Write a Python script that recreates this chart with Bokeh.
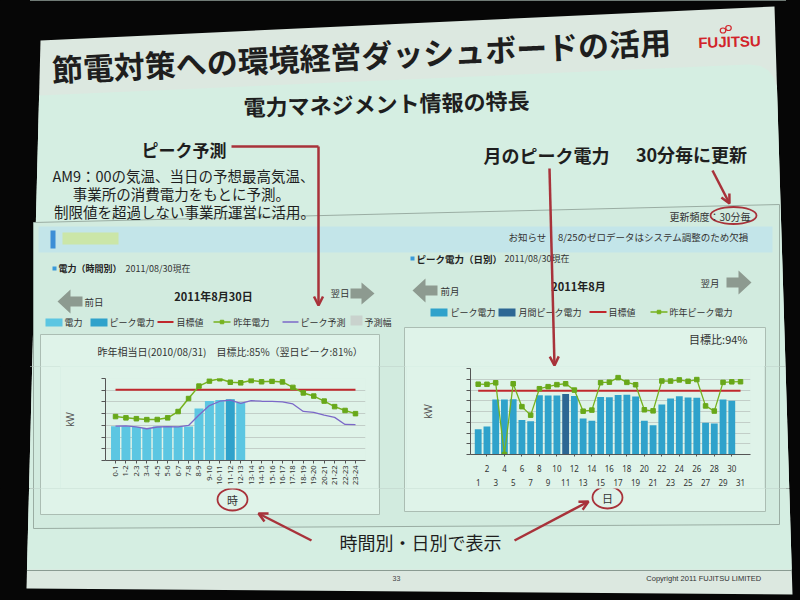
import math
from bokeh.plotting import figure
from bokeh.models import Range1d, FactorRange, FixedTicker, LinearAxis, Arrow, OpenHead
from bokeh.layouts import row, column
from bokeh.core.properties import value
from bokeh.embed import file_html
from bokeh.resources import INLINE

# ---------------- data ----------------
hour_labels = ["0-1", "1-2", "2-3", "3-4", "4-5", "5-6", "6-7", "7-8", "8-9", "9-10",
               "10-11", "11-12", "12-13", "13-14", "14-15", "15-16", "16-17", "17-18",
               "18-19", "19-20", "20-21", "21-22", "22-23", "23-24"]
hourly_power = [292, 292, 287, 277, 291, 292, 290, 290, 444, 508, 517, 523, 496]   # 0-1 .. 12-13
hourly_peak_label = "11-12"
last_year_hourly = [375, 364, 357, 349, 350, 364, 418, 529, 635, 678, 698, 668,
                    663, 683, 672, 676, 671, 624, 577, 550, 507, 460, 427, 400]
peak_forecast = [294, 295, 287, 271, 286, 289, 287, 299, 388, 469, 506, 515,
                 488, 511, 506, 504, 501, 483, 419, 411, 387, 368, 308, 306]
hourly_target = 605
hourly_ticks = [0, 100, 200, 300, 400, 500, 600, 700]

day_numbers = list(range(1, 32))
daily_peak = [235, 260, 512, 511, 513, 320, 310, 551, 550, 549, 562, 544, 336, 315, 535,
              533, 553, 556, 539, 314, 272, 466, 520, 542, 530, 529, 295, 288, 511, 501]   # 8/1 .. 8/30
monthly_peak_day = 11
last_year_daily_peak = [654, 653, 667, 0, 658, 445, 366, 612, 631, 650, 658, 599, 403, 413, 668, 673,
                        715, 671, 649, 416, 406, 684, 683, 694, 681, 697, 452, 404, 671, 676, 677]
daily_target = 593
daily_ticks = [0, 100, 200, 300, 400, 500, 600, 700, 800]

# ---------------- style ----------------
JP = "Noto Sans CJK JP"
BLACK = "#060606"
SLIDE = "#dce8e0"
CONTENT = "#d5eee2"
DASH = "#d2ebdf"
PANEL = "#dff3e9"
RED = "#a8323a"
TXT = "#1e1e1e"
C_POWER = "#5cc6e2"
C_PEAK = "#2fa2cb"
C_MPEAK = "#2d6794"
C_TARGET = "#c0282d"
C_LAST = "#76b21e"
C_FORE = "#7b68c8"


def ledge(y):
    return 40 - 14 * (y - 40) / 548


def redge(y):
    return 774 + 18 * (y - 6) / 588


# ---------------- decorative scene (screen coordinates) ----------------
polys = []   # xs, ys, fill, line, lw
lines = []   # xs, ys, color, lw
texts = []   # x, y, text, size, style, color, align, font, angle
ells = []    # x, y, w, h
arrows = []  # x0, y0, x1, y1
marks = []   # x, y, color

polys.append(([40, 774, 792, 26], [40, 6, 594, 588], SLIDE, None, 0))
polys.append(([ledge(95), 748, 760, 768, 773, redge(86), redge(569), ledge(569)],
              [95, 64, 65.5, 70, 77, 86, 569, 569], CONTENT, None, 0))
lines.append(([ledge(570), redge(570)], [570, 570], "#8a9b92", 1))
polys.append(([33, 779, 779, 33], [222, 204, 524, 528], DASH, "#9aada3", 1))
polys.append(([38, 772, 772, 38], [226, 226, 252, 252], "#c3e5e9", None, 0))
polys.append(([50, 55, 55, 50], [230, 230, 248, 248], "#3b8ed6", None, 0))
polys.append(([62, 118, 118, 62], [232, 232, 244, 244], "#cbe6a8", None, 0))
polys.append(([40, 379, 379, 40], [334, 334, 514, 514], PANEL, "#abbdb3", 1))
polys.append(([404, 765, 765, 404], [327, 327, 511, 511], PANEL, "#abbdb3", 1))
# header squares
polys.append(([52, 56, 56, 52], [266, 266, 270, 270], "#3b9ad9", None, 0))
polys.append(([410, 414, 414, 410], [256, 256, 260, 260], "#3b9ad9", None, 0))
# gray block arrows
GA = "#8d9a90"
polys.append(([57, 70, 70, 82, 82, 70, 70], [301, 289, 296, 296, 306, 306, 313], GA, None, 0))
polys.append(([374, 361, 361, 350, 350, 361, 361], [293, 282, 288, 288, 298, 298, 304], GA, None, 0))
polys.append(([412, 425, 425, 437, 437, 425, 425], [290, 278, 285, 285, 295, 295, 302], GA, None, 0))
polys.append(([751, 738, 738, 726, 726, 738, 738], [282, 270, 277, 277, 287, 287, 294], GA, None, 0))
# legends
polys.append(([45, 62, 62, 45], [318, 318, 326, 326], C_POWER, None, 0))
polys.append(([90, 107, 107, 90], [318, 318, 326, 326], C_PEAK, None, 0))
lines.append(([157, 173], [321.5, 321.5], C_TARGET, 2))
lines.append(([213, 230], [321.5, 321.5], C_LAST, 1.5))
marks.append((221.5, 321.5, C_LAST))
lines.append(([282, 298], [321.5, 321.5], C_FORE, 1.5))
polys.append(([350, 362, 362, 350], [315, 315, 325, 325], "#c9d2cd", None, 0))
polys.append(([430, 447, 447, 430], [308, 308, 316, 316], C_PEAK, None, 0))
polys.append(([498, 515, 515, 498], [308, 308, 316, 316], C_MPEAK, None, 0))
lines.append(([589, 606], [311.5, 311.5], C_TARGET, 2))
lines.append(([650, 667], [311.5, 311.5], C_LAST, 1.5))
marks.append((658.5, 311.5, C_LAST))
for x, s in [(64, "電力"), (109, "ピーク電力"), (176, "目標値"), (233, "昨年電力"),
             (300, "ピーク予測"), (364, "予測幅")]:
    texts.append((x, 322, s, 9, "normal", "#333333", "left", JP, 0))
for x, s in [(450, "ピーク電力"), (518, "月間ピーク電力"), (608, "目標値"), (669, "昨年ピーク電力")]:
    texts.append((x, 312, s, 9, "normal", "#333333", "left", JP, 0))

# titles
texts.append((361, 54, "節電対策への環境経営ダッシュボードの活用", 31, "bold", TXT, "center", JP, 0.045))
texts.append((729, 41, "FUJITSU", 15, "bold", "#d2232a", "center", "Liberation Sans", 0.03))
ells.append((722.5, 30, 5.5, 5, "#d2232a", 1.2))
ells.append((728, 27.5, 5.5, 5, "#d2232a", 1.2))
texts.append((386, 102, "電力マネジメント情報の特長", 22, "bold", TXT, "center", JP, 0.024))
texts.append((141, 149, "ピーク予測", 17, "bold", TXT, "left", JP, 0))
texts.append((183, 175, "AM9：00の気温、当日の予想最高気温、", 14.5, "normal", TXT, "center", JP, 0))
texts.append((181, 193, "事業所の消費電力をもとに予測。", 14.5, "normal", TXT, "center", JP, 0))
texts.append((184, 211, "制限値を超過しない事業所運営に活用。", 14.5, "normal", TXT, "center", JP, 0))
texts.append((546, 154, "月のピーク電力", 18, "bold", TXT, "center", JP, 0))
texts.append((691, 153, "30分毎に更新", 18, "bold", TXT, "center", JP, 0))
texts.append((750, 216, "更新頻度：30分毎", 10, "normal", "#333333", "right", JP, 0))
texts.append((508, 236, "お知らせ", 9.5, "normal", "#333333", "left", JP, 0))
texts.append((748, 236, "8/25のゼロデータはシステム調整のため欠損", 9.5, "normal", "#333333", "right", JP, 0))
ells.append((733, 215, 46, 17, RED, 1.8))
# chart headers
texts.append((58, 268, "電力（時間別）", 9, "bold", "#222222", "left", JP, 0))
texts.append((125, 268, "2011/08/30現在", 9, "normal", "#333333", "left", JP, 0))
texts.append((416, 258, "ピーク電力（日別）", 9.5, "bold", "#222222", "left", JP, 0))
texts.append((504, 258, "2011/08/30現在", 9, "normal", "#333333", "left", JP, 0))
texts.append((84, 301, "前日", 9.5, "normal", "#333333", "left", JP, 0))
texts.append((213, 295, "2011年8月30日", 11, "bold", "#222222", "center", JP, 0))
texts.append((330, 292, "翌日", 9.5, "normal", "#333333", "left", JP, 0))
texts.append((440, 290, "前月", 9.5, "normal", "#333333", "left", JP, 0))
texts.append((578, 285, "2011年8月", 11, "bold", "#222222", "center", JP, 0))
texts.append((700, 282, "翌月", 9.5, "normal", "#333333", "left", JP, 0))
texts.append((97, 351, "昨年相当日(2010/08/31)　目標比:85%（翌日ピーク:81%）", 10, "normal", "#333333", "left", JP, 0))
texts.append((747, 338, "目標比:94%", 11, "normal", "#333333", "right", JP, 0))
# red annotation arrows
lines.append(([231, 318], [146, 146], RED, 2.5))
arrows.append((318, 146, 318, 305))
arrows.append((549, 168, 554, 365))
arrows.append((712, 170, 729, 203))
# bottom part
texts.append((232, 499, "時", 11, "normal", "#333333", "center", JP, 0))
texts.append((607, 497, "日", 11, "normal", "#333333", "center", JP, 0))
ells.append((232, 499, 30, 22, RED, 1.8))
ells.append((607, 497, 30, 22, RED, 1.8))
texts.append((420, 541, "時間別・日別で表示", 18, "normal", TXT, "center", JP, 0))
arrows.append((311, 540, 258, 513))
arrows.append((514, 540, 588, 501))
texts.append((396, 578, "33", 7, "normal", "#444444", "center", "Liberation Sans", 0))
texts.append((767, 578, "Copyright  2011  FUJITSU  LIMITED", 7.5, "normal", "#333333", "right", "Liberation Sans", 0))


def hit(bx0, bx1, by0, by1, w):
    x0, x1, y0, y1 = w
    return not (bx1 < x0 or bx0 > x1 or by1 < y0 or by0 > y1)


def draw_scene(p, w):
    x0, x1, y0, y1 = w
    for xs, ys, fill, lc, lw in polys:
        if hit(min(xs), max(xs), min(ys), max(ys), w):
            p.patch(xs, ys, fill_color=fill, line_color=lc, line_width=lw)
    for xs, ys, c, lw in lines:
        if hit(min(xs), max(xs), min(ys), max(ys), w):
            p.line(xs, ys, line_color=c, line_width=lw)
    for x, y, c in marks:
        if hit(x, x, y, y, w):
            p.scatter([x], [y], marker="square", size=3.5, color=c)
    for x, y, ew, eh, c, lw in ells:
        if hit(x - ew / 2, x + ew / 2, y - eh / 2, y + eh / 2, w):
            p.ellipse(x=[x], y=[y], width=[ew], height=[eh], fill_color=None, line_color=c, line_width=lw)
    for ax0, ay0, ax1, ay1 in arrows:
        if x0 <= ax1 <= x1 and y0 <= ay1 <= y1:
            p.add_layout(Arrow(end=OpenHead(size=9, line_color=RED, line_width=2.5),
                               x_start=ax0, y_start=ay0, x_end=ax1, y_end=ay1,
                               line_color=RED, line_width=2.5))
    for x, y, s, size, style, c, align, font, ang in texts:
        if x0 <= x <= x1 and y0 <= y <= y1:
            p.text(x=[x], y=[y], text=[s], angle=ang, text_color=c,
                   text_font=value(font), text_font_size=value(f"{size}px"),
                   text_font_style=value(style), text_align=value(align),
                   text_baseline=value("middle"))


def filler(x0, x1, y0, y1):
    p = figure(width=x1 - x0, height=y1 - y0, x_range=Range1d(x0, x1), y_range=Range1d(y1, y0),
               output_backend="svg", toolbar_location=None, min_border=0,
               x_axis_location=None, y_axis_location=None, frame_align=False)
    p.grid.visible = False
    p.outline_line_color = None
    p.background_fill_color = BLACK
    p.border_fill_color = BLACK
    draw_scene(p, (x0, x1, y0, y1))
    return p


def style_chart(p):
    p.background_fill_color = PANEL
    p.border_fill_color = PANEL
    p.outline_line_color = None
    p.xgrid.visible = False
    p.ygrid.grid_line_color = "#c2cec8"
    p.ygrid.grid_line_width = 1
    p.yaxis.major_label_text_font_size = "1px"
    p.yaxis.major_label_text_color = None
    p.yaxis.major_label_standoff = 0
    p.yaxis.major_tick_out = 4
    p.yaxis.major_tick_in = 0
    p.yaxis.minor_tick_line_color = None
    p.yaxis.axis_line_color = "#555555"
    p.yaxis.major_tick_line_color = "#555555"
    p.yaxis.axis_label = "kW"
    p.yaxis.axis_label_text_font = "Liberation Sans"
    p.yaxis.axis_label_text_font_size = "10px"
    p.yaxis.axis_label_text_font_style = "normal"
    p.yaxis.axis_label_text_color = "#555555"


# ---------------- left chart: hourly ----------------
CL = figure(width=318, height=122,
            x_range=FactorRange(factors=hour_labels, range_padding=0.46, range_padding_units="absolute"),
            y_range=Range1d(0, 700), output_backend="svg", toolbar_location=None, frame_align=False,
            min_border_left=45, min_border_right=13, min_border_top=12, min_border_bottom=25)
style_chart(CL)
CL.yaxis.ticker = FixedTicker(ticks=hourly_ticks)
CL.yaxis.axis_label_standoff = 26
CL.xaxis.major_label_orientation = math.pi / 2
CL.xaxis.major_label_text_font = "Noto Sans"
CL.xaxis.major_label_text_font_size = "7.5px"
CL.xaxis.major_label_text_color = "#333333"
CL.xaxis.major_label_standoff = 2
CL.xaxis.major_tick_out = 3
CL.xaxis.major_tick_in = 0
CL.xaxis.axis_line_color = "#555555"
CL.xaxis.major_tick_line_color = "#555555"

reg_h = [h for h, v in zip(hour_labels, hourly_power) if h != hourly_peak_label]
reg_v = [v for h, v in zip(hour_labels, hourly_power) if h != hourly_peak_label]
pk_v = [v for h, v in zip(hour_labels, hourly_power) if h == hourly_peak_label]
CL.vbar(x=reg_h, top=reg_v, width=0.86, fill_color=C_POWER, line_color=None)
CL.vbar(x=[hourly_peak_label], top=pk_v, width=0.86, fill_color=C_PEAK, line_color=None)
CL.line(x=[hour_labels[0], hour_labels[-1]], y=[hourly_target, hourly_target], line_color=C_TARGET, line_width=2)
CL.line(x=hour_labels, y=last_year_hourly, line_color=C_LAST, line_width=1.5)
CL.scatter(x=hour_labels, y=last_year_hourly, marker="square", size=4.5, color="#68a81a")
CL.line(x=hour_labels, y=peak_forecast, line_color=C_FORE, line_width=1.3)

# ---------------- right chart: daily ----------------
CR = figure(width=358, height=122, x_range=Range1d(0.12, 32.14), y_range=Range1d(0, 800),
            output_backend="svg", toolbar_location=None, frame_align=False,
            min_border_left=64, min_border_right=14, min_border_top=2, min_border_bottom=28)
style_chart(CR)
CR.yaxis.ticker = FixedTicker(ticks=daily_ticks)
CR.yaxis.axis_label_standoff = 33
xa = CR.xaxis[0]
xa.ticker = FixedTicker(ticks=day_numbers[1::2])
xa.major_label_text_font = "Noto Sans"
xa.major_label_text_font_size = "8px"
xa.major_label_text_color = "#333333"
xa.major_label_standoff = 8
xa.major_tick_out = 2
xa.major_tick_in = 0
xa.minor_tick_line_color = None
xa.axis_line_color = "#555555"
xa.major_tick_line_color = "#555555"
CR.add_layout(LinearAxis(ticker=FixedTicker(ticks=day_numbers[0::2]), axis_line_color=None,
                         major_tick_line_color=None, minor_tick_line_color=None,
                         major_label_standoff=-2, major_label_text_font="Noto Sans",
                         major_label_text_font_size="8px", major_label_text_color="#333333"), "below")

bar_days = day_numbers[:len(daily_peak)]
reg_d = [d for d in bar_days if d != monthly_peak_day]
reg_p = [v for d, v in zip(bar_days, daily_peak) if d != monthly_peak_day]
pk_p = [v for d, v in zip(bar_days, daily_peak) if d == monthly_peak_day]
CR.vbar(x=reg_d, top=reg_p, width=0.78, fill_color=C_PEAK, line_color=None)
CR.vbar(x=[monthly_peak_day], top=pk_p, width=0.78, fill_color=C_MPEAK, line_color=None)
CR.line(x=[day_numbers[0], day_numbers[-1]], y=[daily_target, daily_target], line_color=C_TARGET, line_width=2)
CR.line(x=day_numbers, y=last_year_daily_peak, line_color=C_LAST, line_width=1.3)
CR.scatter(x=day_numbers, y=last_year_daily_peak, marker="square", size=4.5, color="#68a81a")

# ---------------- layout (page has no margin: 800 x 600) ----------------
T = filler(0, 800, 0, 366)
FL = filler(0, 60, 366, 488)
FM = filler(378, 406, 366, 488)
FR = filler(764, 800, 366, 488)
B = filler(0, 800, 488, 600)

SEAM = ("linear-gradient(to right, #060606 0px, #060606 30px, #d9efe4 30px, "
        "#d9efe4 786px, #060606 786px, #060606 800px)")
mid = row(FL, CL, FM, CR, FR, spacing=0, styles={"background": SEAM})
page = column(T, mid, B, spacing=0, styles={"background": SEAM})
open("out.html", "w").write(file_html(page, INLINE))
